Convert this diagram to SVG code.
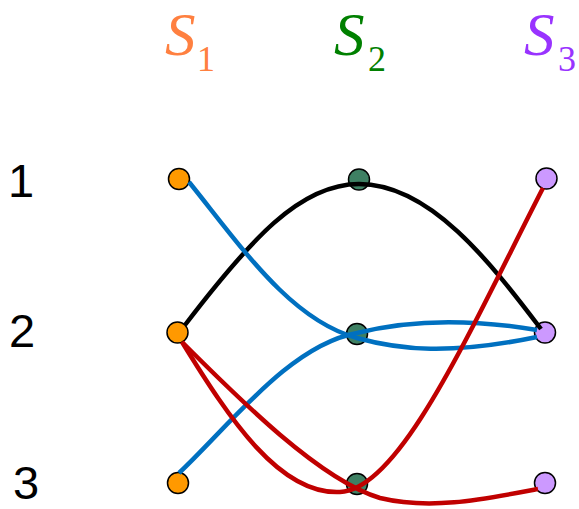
<svg xmlns="http://www.w3.org/2000/svg" width="579" height="509" viewBox="0 0 579 509">
<style>
.lab{font-family:"Liberation Serif",serif;font-style:italic;font-size:61px}
.sub{font-family:"Liberation Serif",serif;font-size:36px}
.num{font-family:"Liberation Sans",Arial,sans-serif;font-size:47px;fill:#000}
.n{stroke:#000;stroke-width:1.5}
.a{fill:#FF9900}.b{fill:#3E8063}.c{fill:#CC99FF}
.e{fill:none;stroke-width:4.5}
</style>
<rect width="579" height="509" fill="#fff"/>
<g id="headers">
<text class="lab" x="165" y="55" fill="#FF8040">S</text><text class="sub" x="197" y="70.5" fill="#FF8040">1</text>
<text class="lab" x="334" y="55" fill="#008000">S</text><text class="sub" x="368" y="70.5" fill="#008000">2</text>
<text class="lab" x="524" y="54.5" fill="#9933FF">S</text><text class="sub" x="558" y="70.5" fill="#9933FF">3</text>
</g>
<g id="rowlabels">
<text class="num" x="8" y="197">1</text>
<text class="num" x="9" y="347">2</text>
<text class="num" x="13" y="498.5">3</text>
</g>
<g id="s1-1"><circle class="n a" cx="179" cy="179" r="10.5"/></g>
<g id="s1-2"><circle class="n a" cx="177.5" cy="332.5" r="10.5"/></g>
<g id="s1-3"><circle class="n a" cx="178" cy="483" r="10.5"/></g>
<g id="s2-1"><circle class="n b" cx="359" cy="179.5" r="10.5"/></g>
<g id="s2-2"><circle class="n b" cx="357" cy="334" r="10.5"/></g>
<g id="s2-3"><circle class="n b" cx="357" cy="484" r="10.5"/></g>
<g id="s3-1"><circle class="n c" cx="546.5" cy="178.5" r="10.5"/></g>
<g id="s3-2"><circle class="n c" cx="545" cy="332.5" r="10.5"/></g>
<g id="s3-3"><circle class="n c" cx="545" cy="483" r="10.5"/></g>
<g id="connectors">
<path class="e" stroke="#000" stroke-width="5" d="M185,325 C250,240 300,184 359,184 C430,184 490,262 541,329"/>
<path class="e" stroke="#0070C0" d="M189,182 C240,245 290,320 357,338 C400,350 450,355 537,337"/>
<path class="e" stroke="#0070C0" d="M179,473 C230,425 290,345 357,333 C400,322 460,317 537,330"/>
<path class="e" stroke="#C00000" d="M182,342 C230,420 280,495 340,492 C400,490 470,330 543,188"/>
<path class="e" stroke="#C00000" d="M182,342 C240,400 320,480 380,498 C430,510 480,500 538,489"/>
</g>
</svg>
